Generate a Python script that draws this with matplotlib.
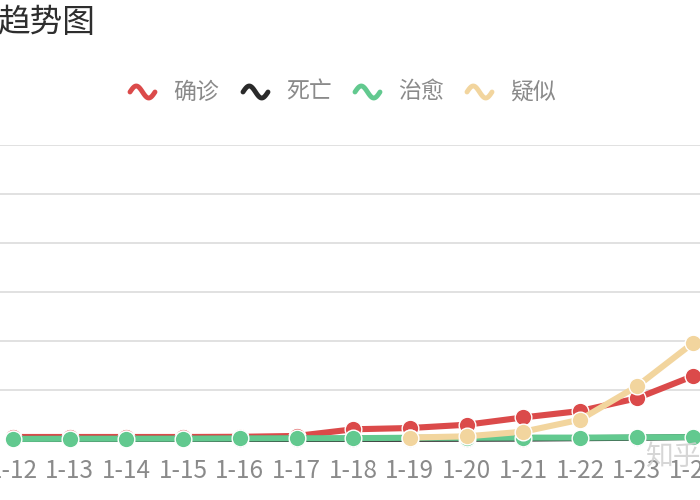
import matplotlib
matplotlib.use("Agg")
import matplotlib.pyplot as plt
import numpy as np

plt.rcParams['font.family'] = ['Noto Sans CJK SC', 'DejaVu Sans']

# data
dates = ['1-12', '1-13', '1-14', '1-15', '1-16', '1-17', '1-18',
         '1-19', '1-20', '1-21', '1-22', '1-23', '1-24']
confirmed = [41, 41, 41, 41, 45, 62, 198, 224, 291, 440, 571, 830, 1287]
deaths = [1, 1, 1, 2, 2, 2, 3, 4, 6, 9, 17, 25, 41]
cured = [2, 5, 6, 7, 12, 15, 17, 25, 25, 28, 28, 34, 38]
suspected = [None, None, None, None, None, None, None, 30, 54, 149, 393, 1072, 1965]

series_names = ['确诊', '死亡', '治愈', '疑似']
series_colors = ['#db4a4a', '#2a2a2a', '#62c98f', '#f2d59e']

W, H = 700, 500
fig = plt.figure(figsize=(7, 5), dpi=100)

# plot area: category 0 sits at x=13px, step 56.7px; y=0 at 439px, 6000 at 145px
step = 56.7
x0 = -13 / step
ax = fig.add_axes([0, (H - 439) / H, 1, (439 - 145) / H])
ax.set_xlim(x0, x0 + W / step)
ax.set_ylim(0, 6000)

for v in range(1000, 7000, 1000):
    ax.axhline(v, color='#dedede', lw=1.3, zorder=0)

x = np.arange(len(dates))
all_series = [confirmed, deaths, cured, suspected]
for k, (vals, color) in enumerate(zip(all_series, series_colors)):
    y = np.array([np.nan if v is None else v for v in vals], dtype=float)
    ax.plot(x, y, color=color, lw=4.4, marker='o', markersize=12,
            markeredgecolor='white', markeredgewidth=1.0,
            solid_capstyle='round', clip_on=False, zorder=2 + k)

ax.set_xticks(x)
ax.set_xticklabels(dates, fontsize=17.5, color='#8a8a8a')
ax.tick_params(axis='x', length=0, pad=14)
ax.set_yticks([])
for s in ax.spines.values():
    s.set_visible(False)

# title (cut at left)
fig.text(-2 / W, 1 - 23 / H, '趋势图', fontsize=23.5, color='#2e2e2e',
         ha='left', va='center')

# legend with wavy icons
legend_icon_x = [130, 243, 355, 467]
ly = 1 - 92 / H
t = np.linspace(0, 1, 40)
for name, color, ix in zip(series_names, series_colors, legend_icon_x):
    wx = (ix + 25 * t) / W
    wy = ly - (6 * np.sin(2 * np.pi * t + np.pi)) / H
    fig.add_artist(plt.Line2D(wx, wy, transform=fig.transFigure, color=color,
                              lw=3.5, solid_capstyle='round'))
    fig.text((ix + 43) / W, ly, name, fontsize=16.5, color='#8a8a8a',
             ha='left', va='center')

# faint watermark in the corner
fig.text(645 / W, 1 - 457 / H, '知乎', fontsize=20, color='#cfcfcf',
         ha='left', va='center', alpha=0.85)

fig.savefig('out.png', dpi=100, facecolor='white')
